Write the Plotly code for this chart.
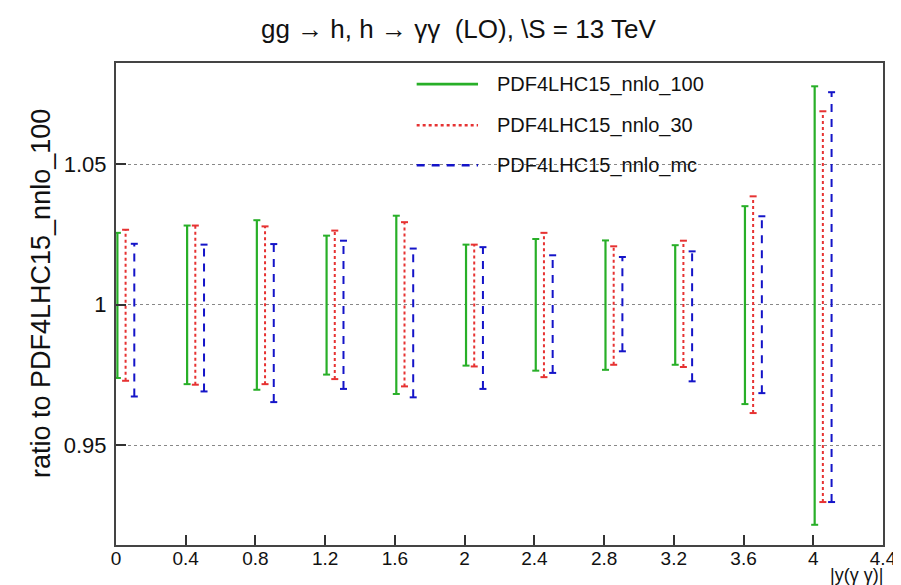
import plotly.graph_objects as go

# ---- data ----
x_bins = [0.0, 0.4, 0.8, 1.2, 1.6, 2.0, 2.4, 2.8, 3.2, 3.6, 4.0]
series_names = ["PDF4LHC15_nnlo_100", "PDF4LHC15_nnlo_30", "PDF4LHC15_nnlo_mc"]
green_hi = [1.0256, 1.0282, 1.0301, 1.0246, 1.0317, 1.0214, 1.0234, 1.0229, 1.0212, 1.0351, 1.0778]
green_lo = [0.9739, 0.9717, 0.9697, 0.9751, 0.9682, 0.9783, 0.9765, 0.9768, 0.9786, 0.9646, 0.9216]
red_hi = [1.0267, 1.0282, 1.0279, 1.0264, 1.0294, 1.0214, 1.0256, 1.0208, 1.0228, 1.0386, 1.0689]
red_lo = [0.9729, 0.9715, 0.9717, 0.9735, 0.9709, 0.9780, 0.9742, 0.9786, 0.9778, 0.9614, 0.9297]
blue_hi = [1.0217, 1.0214, 1.0216, 1.0228, 1.0200, 1.0205, 1.0176, 1.0170, 1.0190, 1.0315, 1.0757]
blue_lo = [0.9673, 0.9691, 0.9653, 0.9700, 0.9670, 0.9700, 0.9757, 0.9834, 0.9727, 0.9685, 0.9297]
x_ticks = [0, 0.4, 0.8, 1.2, 1.6, 2, 2.4, 2.8, 3.2, 3.6, 4, 4.4]
y_ticks = [0.95, 1.0, 1.05]

FONT = "Liberation Sans, Arial, sans-serif"
styles = [
    dict(color="rgb(40,175,40)", dash="solid", width=2.2, shift=0.008),
    dict(color="rgb(230,50,50)", dash="3px,3px", width=2, shift=0.055),
    dict(color="rgb(20,20,200)", dash="8px,7px", width=2, shift=0.105),
]
data = [(green_lo, green_hi), (red_lo, red_hi), (blue_lo, blue_hi)]

fig = go.Figure()
for (lo, hi), st in zip(data, styles):
    xs = [x + st["shift"] for x in x_bins]
    X, Y = [], []
    for x, l, h in zip(xs, lo, hi):
        X += [x, x, None]
        Y += [l, h, None]
    fig.add_trace(go.Scatter(x=X, y=Y, mode="lines", showlegend=False, hoverinfo="skip",
                             line=dict(color=st["color"], dash=st["dash"], width=st["width"])))
    fig.add_trace(go.Scatter(x=xs + xs, y=list(lo) + list(hi), mode="markers", showlegend=False,
                             hoverinfo="skip",
                             marker=dict(symbol="line-ew", size=5, line=dict(color=st["color"], width=2))))

# custom legend (ROOT-like)
leg_rows = [0.956, 0.871, 0.788]
for name, st, yy in zip(series_names, styles, leg_rows):
    fig.add_shape(type="line", xref="paper", yref="paper", x0=0.392, x1=0.472, y0=yy, y1=yy,
                  line=dict(color=st["color"], dash=st["dash"], width=st["width"] + 0.5))
    fig.add_annotation(xref="paper", yref="paper", x=0.4935, y=yy, text=name, showarrow=False,
                       xanchor="left", yanchor="middle", font=dict(family=FONT, size=20, color="#111"))

fig.add_annotation(xref="paper", yref="paper", x=0.447, y=1.07,
                   text="gg → h, h → γγ  (LO), \\S = 13 TeV", showarrow=False,
                   xanchor="center", yanchor="middle", font=dict(family=FONT, size=26, color="#111"))
fig.add_annotation(xref="paper", yref="paper", x=-0.097, y=0.522, textangle=-90,
                   text="ratio to PDF4LHC15_nnlo_100", showarrow=False,
                   xanchor="center", yanchor="middle", font=dict(family=FONT, size=27, color="#111"))
fig.add_annotation(xref="paper", yref="paper", x=1.003, y=-0.062,
                   text="|y(γ γ)|", showarrow=False,
                   xanchor="right", yanchor="middle", font=dict(family=FONT, size=18, color="#111"))

fig.update_xaxes(range=[0, 4.4], tickvals=x_ticks, ticktext=[f"{v:g}" for v in x_ticks],
                 ticks="inside", ticklen=10, tickwidth=1.5, tickcolor="#333",
                 showline=True, mirror=True, linecolor="#444", linewidth=2,
                 showgrid=False, zeroline=False, ticklabelstandoff=-5,
                 tickfont=dict(family=FONT, size=19, color="#111"))
fig.update_yaxes(range=[0.9144, 1.0861], tickvals=y_ticks, ticktext=[f"{v:g}" for v in y_ticks],
                 ticks="inside", ticklen=10, tickwidth=1.5, tickcolor="#333",
                 showline=True, mirror=True, linecolor="#444", linewidth=2,
                 showgrid=True, gridcolor="#888", griddash="dot", gridwidth=1, zeroline=False,
                 ticklabelstandoff=3,
                 tickfont=dict(family=FONT, size=22, color="#111"))

fig.update_layout(width=901, height=585, margin=dict(l=108, r=23, t=55, b=48),
                  paper_bgcolor="white", plot_bgcolor="white")
fig.write_html("out.html")
